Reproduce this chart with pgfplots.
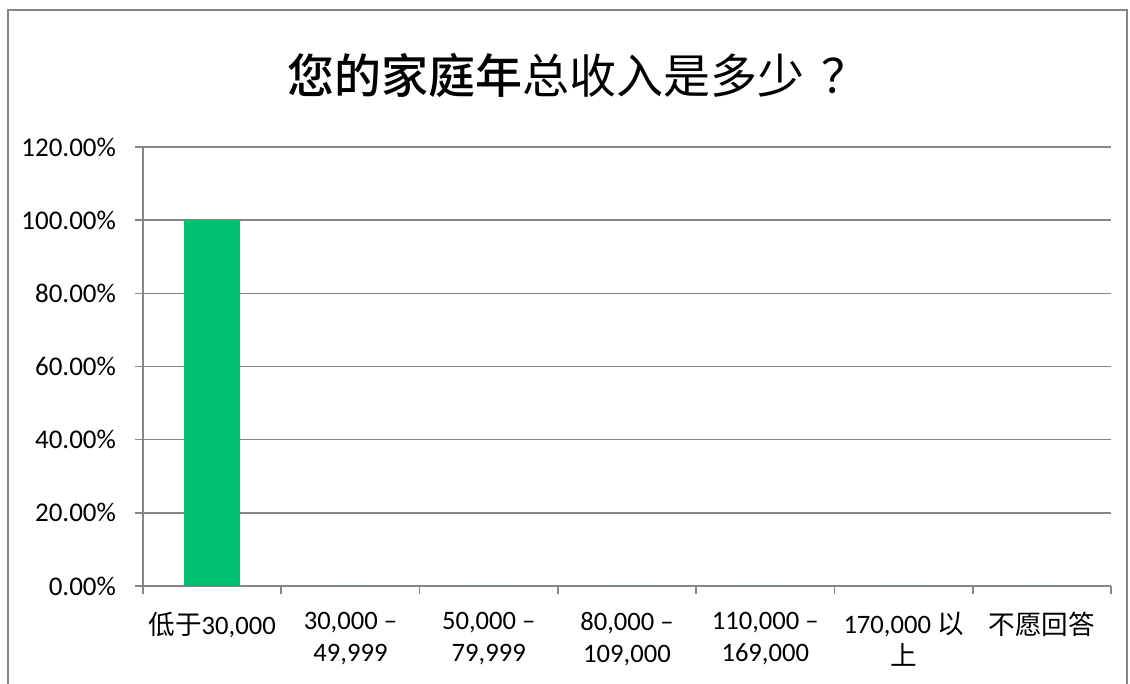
\documentclass[border=0pt]{standalone}
\usepackage{fontspec}
\setmainfont{Carlito}
\newfontfamily\cjk{Noto Sans CJK SC}[BoldFont={Noto Sans CJK SC Medium}]
\usepackage{pgfplots}
\pgfplotsset{compat=1.18}
\definecolor{barg}{RGB}{0,191,111}
\definecolor{gridc}{RGB}{134,134,134}
\begin{document}
\begin{tikzpicture}[x=1pt,y=1pt]
\useasboundingbox (0,0) rectangle (565,342);
\draw[gridc, line width=0.8pt] (4,-2) -- (4,337) -- (563.5,337) -- (563.5,-2);
\node[font=\cjk\fontsize{23.5}{27}\selectfont] at (289,304.5) {{\bfseries 您的家庭年}总收入是多少\hspace{0.35em}？};
\begin{axis}[
  at={(71.5pt,49pt)}, anchor=south west,
  scale only axis, width=484pt, height=219.5pt,
  xmin=-0.5, xmax=6.5, ymin=0, ymax=120,
  axis x line*=bottom, axis y line*=left,
  axis line style={gridc, line width=0.8pt},
  ytick={0,20,...,120},
  ymajorgrids, grid style={gridc, line width=0.8pt},
  yticklabel={\pgfmathprintnumber[fixed,fixed zerofill,precision=2]{\tick}\%},
  /pgf/number format/assume math mode=true,
  xtick={-0.5,0.5,...,6.5}, xticklabels={},
  extra x ticks={0,1,2,3,4,5,6},
  extra x tick labels={{{\cjk 低于}30,000},{30,000 –\\49,999},{50,000 –\\79,999},{80,000 –\\109,000},{110,000 –\\169,000},{170,000 {\cjk 以}\\{\cjk 上}},{{\cjk 不愿回答}}},
  extra x tick style={tick style={draw=none}},
  xticklabel style={align=center, font=\fontsize{13.3}{16}\selectfont, yshift=-5.5pt},
  yticklabel style={font=\fontsize{13.5}{15}\selectfont, xshift=-6pt},
  tick align=outside, major tick length=4pt,
  tick style={gridc, line width=0.8pt},
]
\addplot[ybar, bar width=28pt, fill=barg, draw=none] coordinates {(0,100) (1,0) (2,0) (3,0) (4,0) (5,0) (6,0)};
\end{axis}
\end{tikzpicture}
\end{document}
